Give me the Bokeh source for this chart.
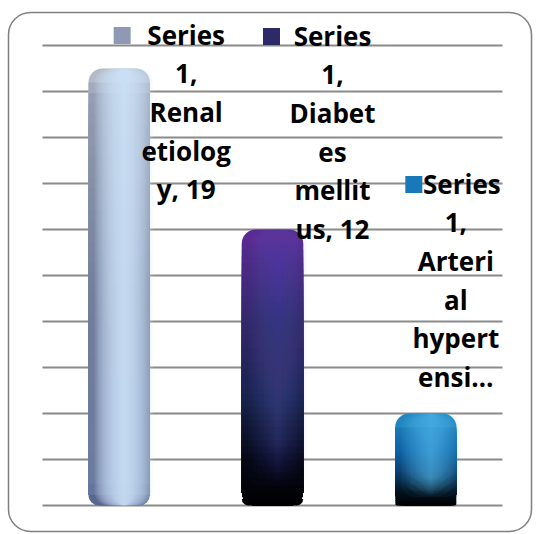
import numpy as np
from bokeh.plotting import figure
from bokeh.models import ColumnDataSource, Range1d, BoxAnnotation
from bokeh.core.properties import value as pvalue
from bokeh.embed import file_html
from bokeh.resources import INLINE

# ---------------- data ----------------
categories = ["Renal etiology", "Diabetes mellitus", "Arterial hypertension"]
values = [19, 12, 4]
label_lines = [
    ["Series", "1,", "Renal", "etiolog", "y, 19"],
    ["Series", "1,", "Diabet", "es", "mellit", "us, 12"],
    ["Series", "1,", "Arteri", "al", "hypert", "ensi\u2026"],
]
y_max = 20
y_step = 2

# ---------------- styles ----------------
W, H = 540, 534
b_left, b_right, b_top, b_bottom = 42, 38, 45, 29
bar_width = 0.4
radius = 14
label_dx = [67, 60, 30]          # px from bar centre
label_first_dx = [0, 0, 6]       # extra px for the key line
label_dy = [-34, -194, -230]     # px from bar top
line_gap = 38.7
key_dx = [-64, -61, -42]
key_colors = ["#8e9ab4", "#2e2a68", "#1878b8"]
edge_stops = [
    [(0.0, "#b4bbc8"), (0.06, "#939cb0"), (0.5, "#727e9c"), (0.94, "#6a7aa0"), (1.0, "#4e5c82")],
    [(0.0, "#5a2a92"), (0.3, "#36286e"), (0.6, "#18224c"), (0.82, "#050814"), (1.0, "#000000")],
    [(0.0, "#2286c0"), (0.4, "#0e62a4"), (0.62, "#0a4272"), (0.84, "#031220"), (1.0, "#000000")],
]
glow_color = ["#d4e4ff", "#5a78d0", "#5cc8fc"]
glow_alpha = [0.09, 0.02, 0.04]
glow_lift = [0.0, 0.22, 0.3]     # fraction of height where the glow fades out at the bottom
n_glow = 24
glow_shift = 0.08
grid_color = "#8a8a8a"


def hex2rgb(h):
    h = h.lstrip("#")
    return np.array([int(h[i:i + 2], 16) for i in (0, 2, 4)], dtype=float)


def rgb2hex(c):
    c = np.clip(np.round(c), 0, 255).astype(int)
    return "#%02x%02x%02x" % tuple(c)


def stop_color(stops, t):
    for (t0, c0), (t1, c1) in zip(stops[:-1], stops[1:]):
        if t <= t1:
            f = 0 if t1 == t0 else (t - t0) / (t1 - t0)
            return rgb2hex(hex2rgb(c0) * (1 - f) + hex2rgb(c1) * f)
    return stops[-1][1]


n = len(categories)
frame_w = W - b_left - b_right
frame_h = H - b_top - b_bottom
sx = frame_w / n
sy = frame_h / y_max

p = figure(width=W, height=H, output_backend="svg", toolbar_location=None, title=None,
           x_range=Range1d(-b_left / sx, n + b_right / sx),
           y_range=Range1d(-b_bottom / sy, y_max + b_top / sy),
           min_border=0)
p.xaxis.visible = False
p.yaxis.visible = False
p.grid.visible = False
p.outline_line_color = None
p.background_fill_color = "white"
p.border_fill_color = "white"

# ---------------- gridlines ----------------
grid_values = list(range(0, y_max + 1, y_step))
p.segment(x0=[0] * len(grid_values), x1=[n] * len(grid_values), y0=grid_values, y1=grid_values,
          line_color=grid_color, line_width=2)

# ---------------- cylinders ----------------
K = 40
for i, v in enumerate(values):
    xc = i + 0.5
    stops = edge_stops[i]
    p.vbar(x=[xc], top=[v], bottom=0, width=bar_width,
           fill_color=stop_color(stops, 0.0), line_color=None, border_radius=radius)
    cap = radius / sy
    body = v - cap
    tops = [body * (1 - k / K) for k in range(K)]
    cols = [stop_color(stops, (v - t) / v) for t in tops]
    p.vbar(x=[xc] * K, top=tops, bottom=0, width=bar_width, fill_color=cols,
           line_color=None, border_radius=(0, 0, radius, radius))
    widths = [bar_width * (0.97 - 0.93 * k / (n_glow - 1)) for k in range(n_glow)]
    bottoms = [v * glow_lift[i] * (0.3 + 0.7 * ((k * 7) % n_glow) / (n_glow - 1)) for k in range(n_glow)]
    p.vbar(x=[xc + glow_shift * bar_width] * n_glow, top=[v] * n_glow, bottom=bottoms,
           width=widths, fill_color=glow_color[i],
           fill_alpha=glow_alpha[i], line_color=None, border_radius=radius)

# ---------------- labels ----------------
lx, ly, lt, ldx, ldy = [], [], [], [], []
for i, (v, lines) in enumerate(zip(values, label_lines)):
    for j, t in enumerate(lines):
        lx.append(i + 0.5)
        ly.append(v)
        lt.append(t)
        ldx.append(label_dx[i] + (label_first_dx[i] if j == 0 else 0))
        ldy.append(label_dy[i] + j * line_gap)
src = ColumnDataSource(dict(x=lx, y=ly, text=lt, dx=ldx, dy=ldy))
p.text(x="x", y="y", text="text", x_offset="dx", y_offset="dy", source=src,
       text_font=pvalue("Open Sans"), text_font_style="bold", text_font_size="26px",
       text_align="center", text_baseline="alphabetic", text_color="black")

kx = [i + 0.5 + (label_dx[i] + key_dx[i]) / sx for i in range(n)]
ky = [v - (label_dy[i] + 1) / sy for i, v in enumerate(values)]
p.scatter(x=kx, y=ky, marker="square", size=17, fill_color=key_colors, line_color=None)

# ---------------- chart border ----------------
x_lo, y_hi = -b_left / sx, y_max + b_top / sy
p.add_layout(BoxAnnotation(left=x_lo + 8 / sx, right=x_lo + 531 / sx,
                           top=y_hi - 12 / sy, bottom=y_hi - 531 / sy,
                           fill_alpha=0, line_color="#7f7f7f", line_alpha=1.0, line_width=1.5,
                           border_radius=22))

open("out.html", "w").write(file_html(p, INLINE))
